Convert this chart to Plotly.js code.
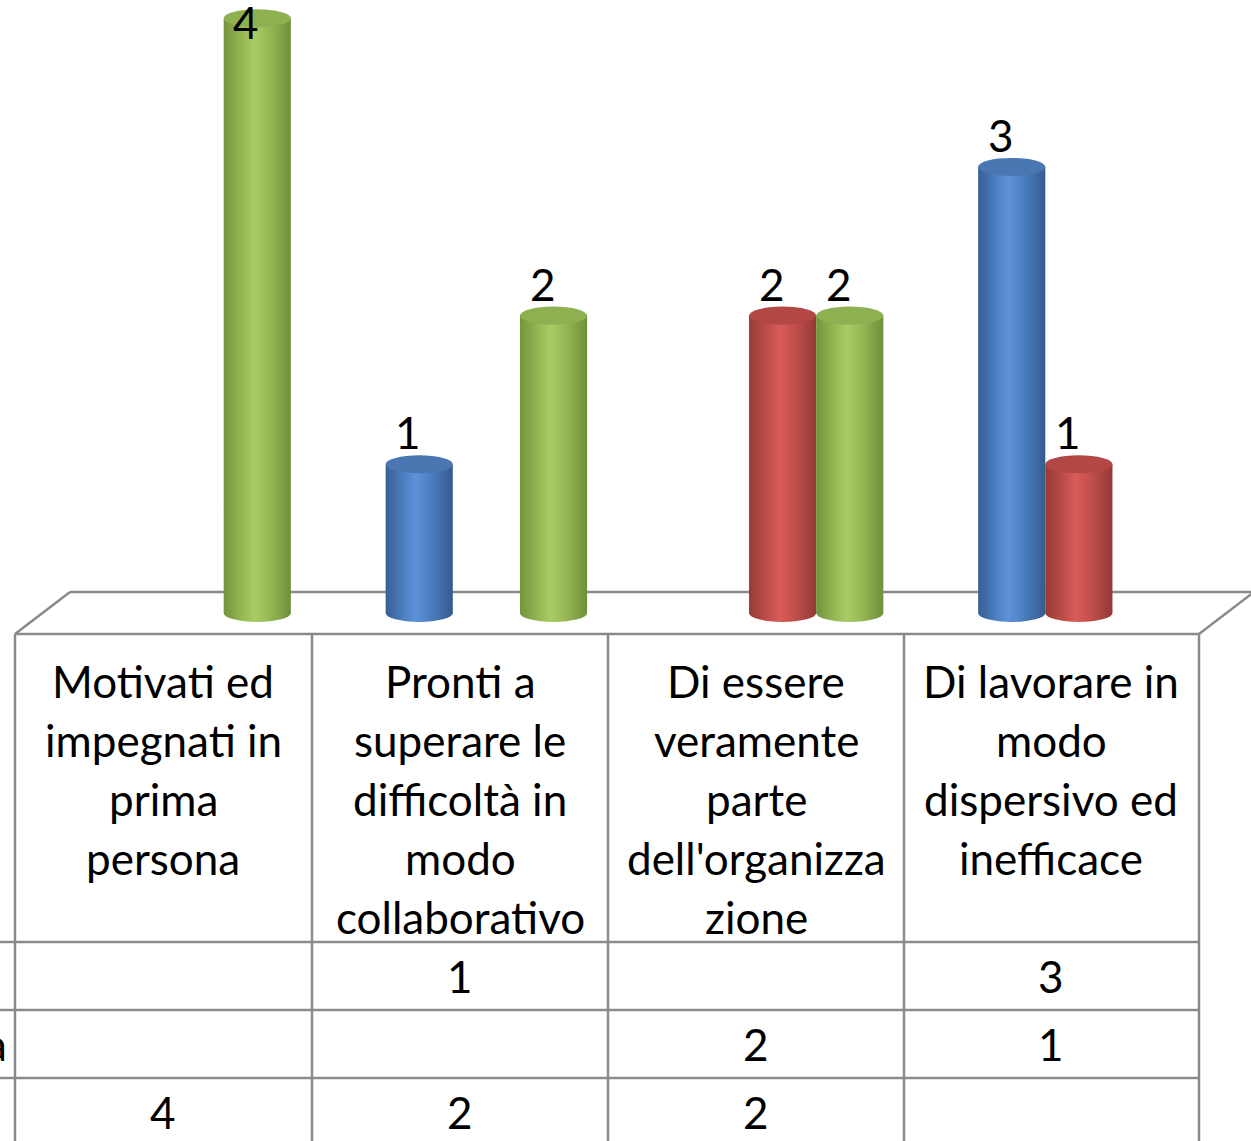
<!DOCTYPE html>
<html><head><meta charset="utf-8">
<script src="https://cdn.plot.ly/plotly-3.0.1.min.js"></script>
<style>html,body{margin:0;padding:0;background:#fff;overflow:hidden}</style>
</head><body><div id="chart" style="width:1251px;height:1141px"></div>
<script>
// ---- data ----
const categories = [
  "Motivati ed<br>impegnati in<br>prima<br>persona",
  "Pronti a<br>superare le<br>difficoltà in<br>modo<br>collaborativo",
  "Di essere<br>veramente<br>parte<br>dell'organizza<br>zione",
  "Di lavorare in<br>modo<br>dispersivo ed<br>inefficace"
];
const seriesNames = ["Poco", "Abbastanza", "Molto"];
const blueValues  = [null, 1, null, 3];
const redValues   = [null, null, 2, 1];
const greenValues = [4, 2, 2, null];

// ---- styling / geometry ----
const FONT = "Lato, 'Open Sans', sans-serif";
const FS = 44;
const W = 1251, H = 1141, ML = 42, MR = 24, MT = 3, MB = 508;
const PW = W - ML - MR, PH = H - MT - MB;
const YR = [-0.1345, 4.1025];
const BARGAP = 0.32;
const bw = (1 - BARGAP) / 3;
const pxX = p => (p - ML) / PW;
const pxY = p => (MT + PH - p) / PH;
const unitPx = PH / (YR[1] - YR[0]);
const valToPx = v => MT + PH - (v - YR[0]) * unitPx;

const series = [
  {name: seriesNames[0], values: blueValues, base: "#4f81bd", top: "#4a77b2", grad: ["#365f94", "#4f83c6", "#5c93d8", "#4a7cbc", "#345b8e"]},
  {name: seriesNames[1], values: redValues,  base: "#c0504d", top: "#b24743", grad: ["#983a37", "#c24f4b", "#d95c58", "#bf4e4a", "#933835"]},
  {name: seriesNames[2], values: greenValues,base: "#9bbb59", top: "#8fb050", grad: ["#75933c", "#98bb55", "#aacb65", "#94b552", "#718f3a"]}
];

const traces = series.map(s => ({
  type: "bar", x: categories, y: s.values, name: s.name,
  marker: {color: s.base, line: {width: 0}}, hoverinfo: "skip", showlegend: false
}));

const shapes = [];
const annotations = [];
const lineStyle = {color: "#8a8a8a", width: 2.5};
function pline(x0, y0, x1, y1, layer) {
  shapes.push({type: "line", xref: "paper", yref: "paper", x0: pxX(x0), y0: pxY(y0), x1: pxX(x1), y1: pxY(y1), line: lineStyle, layer: layer || "above"});
}
// floor
pline(70, 592, 1260, 592, "below");
pline(70, 592, 15, 634, "below");
pline(1254, 592, 1199, 634, "below");
pline(15, 634, 1199, 634);
// table grid
[15, 312, 608, 904, 1199].forEach(x => pline(x, 634, x, 1150));
[942, 1010, 1078].forEach(y => pline(-5, y, 1199, y));

// cylinder caps
const dy = 9 / unitPx;
const bottomCapIdx = [];
series.forEach((s, k) => {
  s.values.forEach((v, i) => {
    if (v === null) return;
    const cx = i + (k - 1) * bw;
    bottomCapIdx.push({idx: shapes.length, k});
    shapes.push({type: "circle", xref: "x", yref: "y", x0: cx - bw / 2, x1: cx + bw / 2, y0: -dy, y1: dy,
      fillcolor: s.base, line: {width: 0}, layer: "below"});
    shapes.push({type: "circle", xref: "x", yref: "y", x0: cx - bw / 2, x1: cx + bw / 2, y0: v - dy, y1: v + dy,
      fillcolor: s.top, line: {width: 0}, layer: "above"});
    // value label
    const topPx = valToPx(v);
    const labPx = Math.max(topPx - 32, 22);
    annotations.push({xref: "x", yref: "y", x: cx, y: v, xshift: -11, yshift: topPx - labPx, text: String(v),
      showarrow: false, font: {family: FONT, size: FS, color: "#000"}, xanchor: "center", yanchor: "middle"});
  });
});

// table header labels
const colCenters = [163, 460, 756, 1051];
categories.forEach((c, i) => {
  c.split("<br>").forEach((line, j) => {
    annotations.push({xref: "paper", yref: "paper", x: pxX(colCenters[i]), y: pxY(681 + 59 * j), text: line,
      showarrow: false, font: {family: FONT, size: FS, color: "#000"}, xanchor: "center", yanchor: "middle"});
  });
});
// table value rows
const rowCenters = [976, 1044, 1112];
series.forEach((s, k) => {
  s.values.forEach((v, i) => {
    if (v === null) return;
    annotations.push({xref: "paper", yref: "paper", x: pxX(colCenters[i]), y: pxY(rowCenters[k]), text: String(v),
      showarrow: false, font: {family: FONT, size: FS, color: "#000"}, xanchor: "center", yanchor: "middle"});
  });
  // series name (mostly cut off by the left edge, as in the reference)
  annotations.push({xref: "paper", yref: "paper", x: pxX(k === 1 ? 9 : -40), y: pxY(rowCenters[k]), text: s.name,
    showarrow: false, font: {family: FONT, size: FS, color: "#000"}, xanchor: "right", yanchor: "middle"});
});

const layout = {
  width: W, height: H,
  margin: {l: ML, r: MR, t: MT, b: MB, pad: 0},
  paper_bgcolor: "#fff", plot_bgcolor: "rgba(0,0,0,0)",
  barmode: "group", bargap: BARGAP, bargroupgap: 0,
  xaxis: {type: "category", range: [-0.5, 3.5], showticklabels: false, showgrid: false, zeroline: false, showline: false, ticks: "", fixedrange: true},
  yaxis: {range: YR, showticklabels: false, showgrid: false, zeroline: false, showline: false, ticks: "", fixedrange: true},
  shapes: shapes, annotations: annotations, showlegend: false
};

Plotly.newPlot("chart", traces, layout, {displayModeBar: false, staticPlot: true}).then(gd => {
  const svgNS = "http://www.w3.org/2000/svg";
  const defs = gd.querySelector("svg.main-svg defs");
  series.forEach((s, k) => {
    const g = document.createElementNS(svgNS, "linearGradient");
    g.setAttribute("id", "cyl" + k);
    g.setAttribute("x1", "0"); g.setAttribute("x2", "1"); g.setAttribute("y1", "0"); g.setAttribute("y2", "0");
    const offs = [0, 0.3, 0.45, 0.7, 1];
    s.grad.forEach((c, j) => {
      const st = document.createElementNS(svgNS, "stop");
      st.setAttribute("offset", offs[j]); st.setAttribute("stop-color", c);
      g.appendChild(st);
    });
    defs.appendChild(g);
  });
  gd.querySelectorAll(".barlayer .trace").forEach((tg, k) => {
    tg.querySelectorAll(".point path").forEach(p => { p.style.fill = "url(#cyl" + k + ")"; });
  });
  const shapePaths = Array.from(gd.querySelectorAll("path[data-index]"));
  bottomCapIdx.forEach(o => {
    const p = shapePaths.find(el => el.getAttribute("data-index") == o.idx);
    if (p) p.style.fill = "url(#cyl" + o.k + ")";
  });
});
</script>
</body></html>
